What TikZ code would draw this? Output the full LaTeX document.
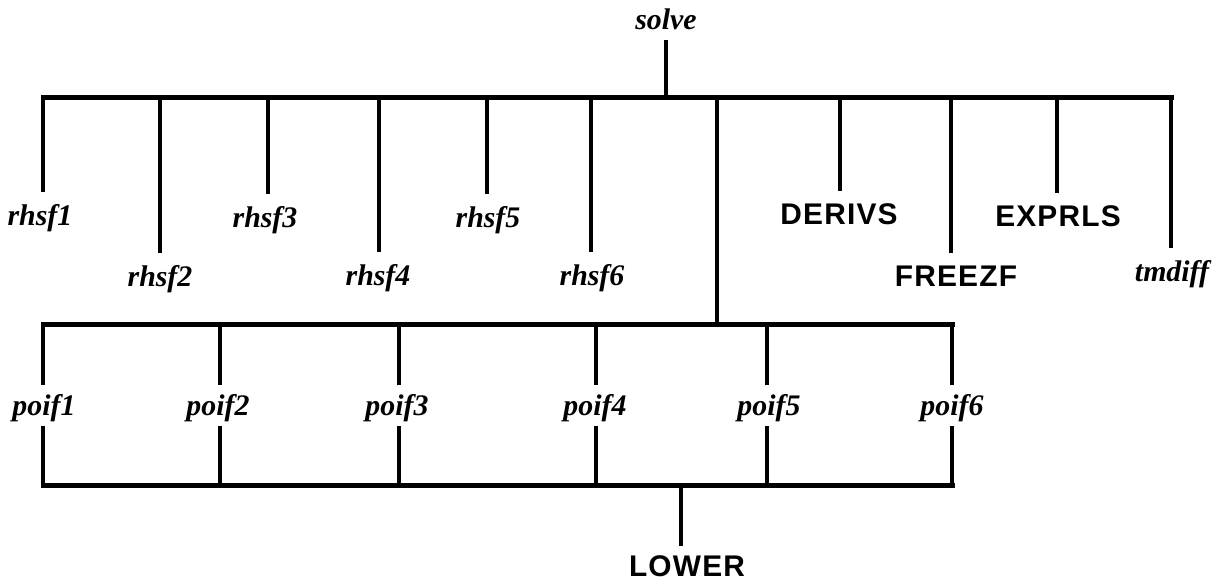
\documentclass[tikz,border=0pt]{standalone}
\usepackage{fontspec}
\setmainfont{Liberation Serif}
\setsansfont[LetterSpace=4]{Liberation Sans}
\tikzset{
 fn/.style={inner sep=0pt,text height=0.66cm,text depth=0.22cm,font=\fontsize{17}{20}\selectfont\bfseries\itshape},
 sub/.style={fn,font=\fontsize{17}{20}\selectfont\sffamily\bfseries},
 poi/.style={fn,text height=0.6cm},
 bar/.style={line width=0.1cm,line cap=rect},
 drop/.style={line width=0.085cm}
}
\begin{document}
\begin{tikzpicture}[x=0.02cm,y=-0.02cm]
 \useasboundingbox (0,0) rectangle (1221,583);
 % top level
 \node[fn,anchor=base] (solve) at (666,29) {solve};
 \coordinate (top) at (666,97);
 \coordinate (t1) at (43,97);
 \coordinate (t2) at (160,97);
 \coordinate (t3) at (268,97);
 \coordinate (t4) at (379,97);
 \coordinate (t5) at (487,97);
 \coordinate (t6) at (591,97);
 \coordinate (t7) at (717,97);
 \coordinate (t8) at (840,97);
 \coordinate (t9) at (951,97);
 \coordinate (t10) at (1057,97);
 \coordinate (t11) at (1171,97);
 \draw[drop] (solve.south) -- (top);
 \draw[bar] (t1) -- (t11);
 % called routines
 \node[fn,anchor=base] (rhsf1) at (40,225) {rhsf1};
 \node[fn,anchor=base] (rhsf2) at (160,286) {rhsf2};
 \node[fn,anchor=base] (rhsf3) at (265,227) {rhsf3};
 \node[fn,anchor=base] (rhsf4) at (378,285) {rhsf4};
 \node[fn,anchor=base] (rhsf5) at (488,227) {rhsf5};
 \node[fn,anchor=base] (rhsf6) at (592,285) {rhsf6};
 \node[sub,anchor=base] (derivs) at (839,224) {DERIVS};
 \node[sub,anchor=base] (freezf) at (956,286) {FREEZF};
 \node[sub,anchor=base] (exprls) at (1058,226) {EXPRLS};
 \node[fn,anchor=base] (tmdiff) at (1172,281) {tmdiff};
 \draw[drop] (t1) -- (t1 |- rhsf1.north);
 \draw[drop] (t2) -- (t2 |- rhsf2.north);
 \draw[drop] (t3) -- (t3 |- rhsf3.north);
 \draw[drop] (t4) -- (t4 |- rhsf4.north);
 \draw[drop] (t5) -- (t5 |- rhsf5.north);
 \draw[drop] (t6) -- (t6 |- rhsf6.north);
 \draw[drop] (t8) -- (t8 |- derivs.north);
 \draw[drop] (t9) -- (t9 |- freezf.north);
 \draw[drop] (t10) -- (t10 |- exprls.north);
 \draw[drop] (t11) -- (t11 |- tmdiff.north);
 % poif row
 \coordinate (m1) at (43,324);
 \coordinate (m2) at (220,324);
 \coordinate (m3) at (399,324);
 \coordinate (m4) at (596,324);
 \coordinate (m5) at (767,324);
 \coordinate (m6) at (952,324);
 \coordinate (mid) at (717,324);
 \draw[drop] (t7) -- (mid);
 \draw[bar] (m1) -- (m6);
 \node[poi,anchor=base] (poif1) at (44,415) {poif1};
 \node[poi,anchor=base] (poif2) at (218,415) {poif2};
 \node[poi,anchor=base] (poif3) at (397,415) {poif3};
 \node[poi,anchor=base] (poif4) at (595,415) {poif4};
 \node[poi,anchor=base] (poif5) at (769,415) {poif5};
 \node[poi,anchor=base] (poif6) at (952,415) {poif6};
 \coordinate (b1) at (43,485);
 \coordinate (b2) at (220,485);
 \coordinate (b3) at (399,485);
 \coordinate (b4) at (596,485);
 \coordinate (b5) at (767,485);
 \coordinate (b6) at (952,485);
 \coordinate (low) at (681,485);
 \draw[drop] (m1) -- (m1 |- poif1.north) (b1 |- poif1.south) -- (b1);
 \draw[drop] (m2) -- (m2 |- poif2.north) (b2 |- poif2.south) -- (b2);
 \draw[drop] (m3) -- (m3 |- poif3.north) (b3 |- poif3.south) -- (b3);
 \draw[drop] (m4) -- (m4 |- poif4.north) (b4 |- poif4.south) -- (b4);
 \draw[drop] (m5) -- (m5 |- poif5.north) (b5 |- poif5.south) -- (b5);
 \draw[drop] (m6) -- (m6 |- poif6.north) (b6 |- poif6.south) -- (b6);
 \draw[bar] (b1) -- (b6);
 % bottom
 \node[sub,text height=0.6cm,anchor=base] (lower) at (687,576) {LOWER};
 \draw[drop] (low) -- (low |- lower.north);
\end{tikzpicture}
\end{document}
